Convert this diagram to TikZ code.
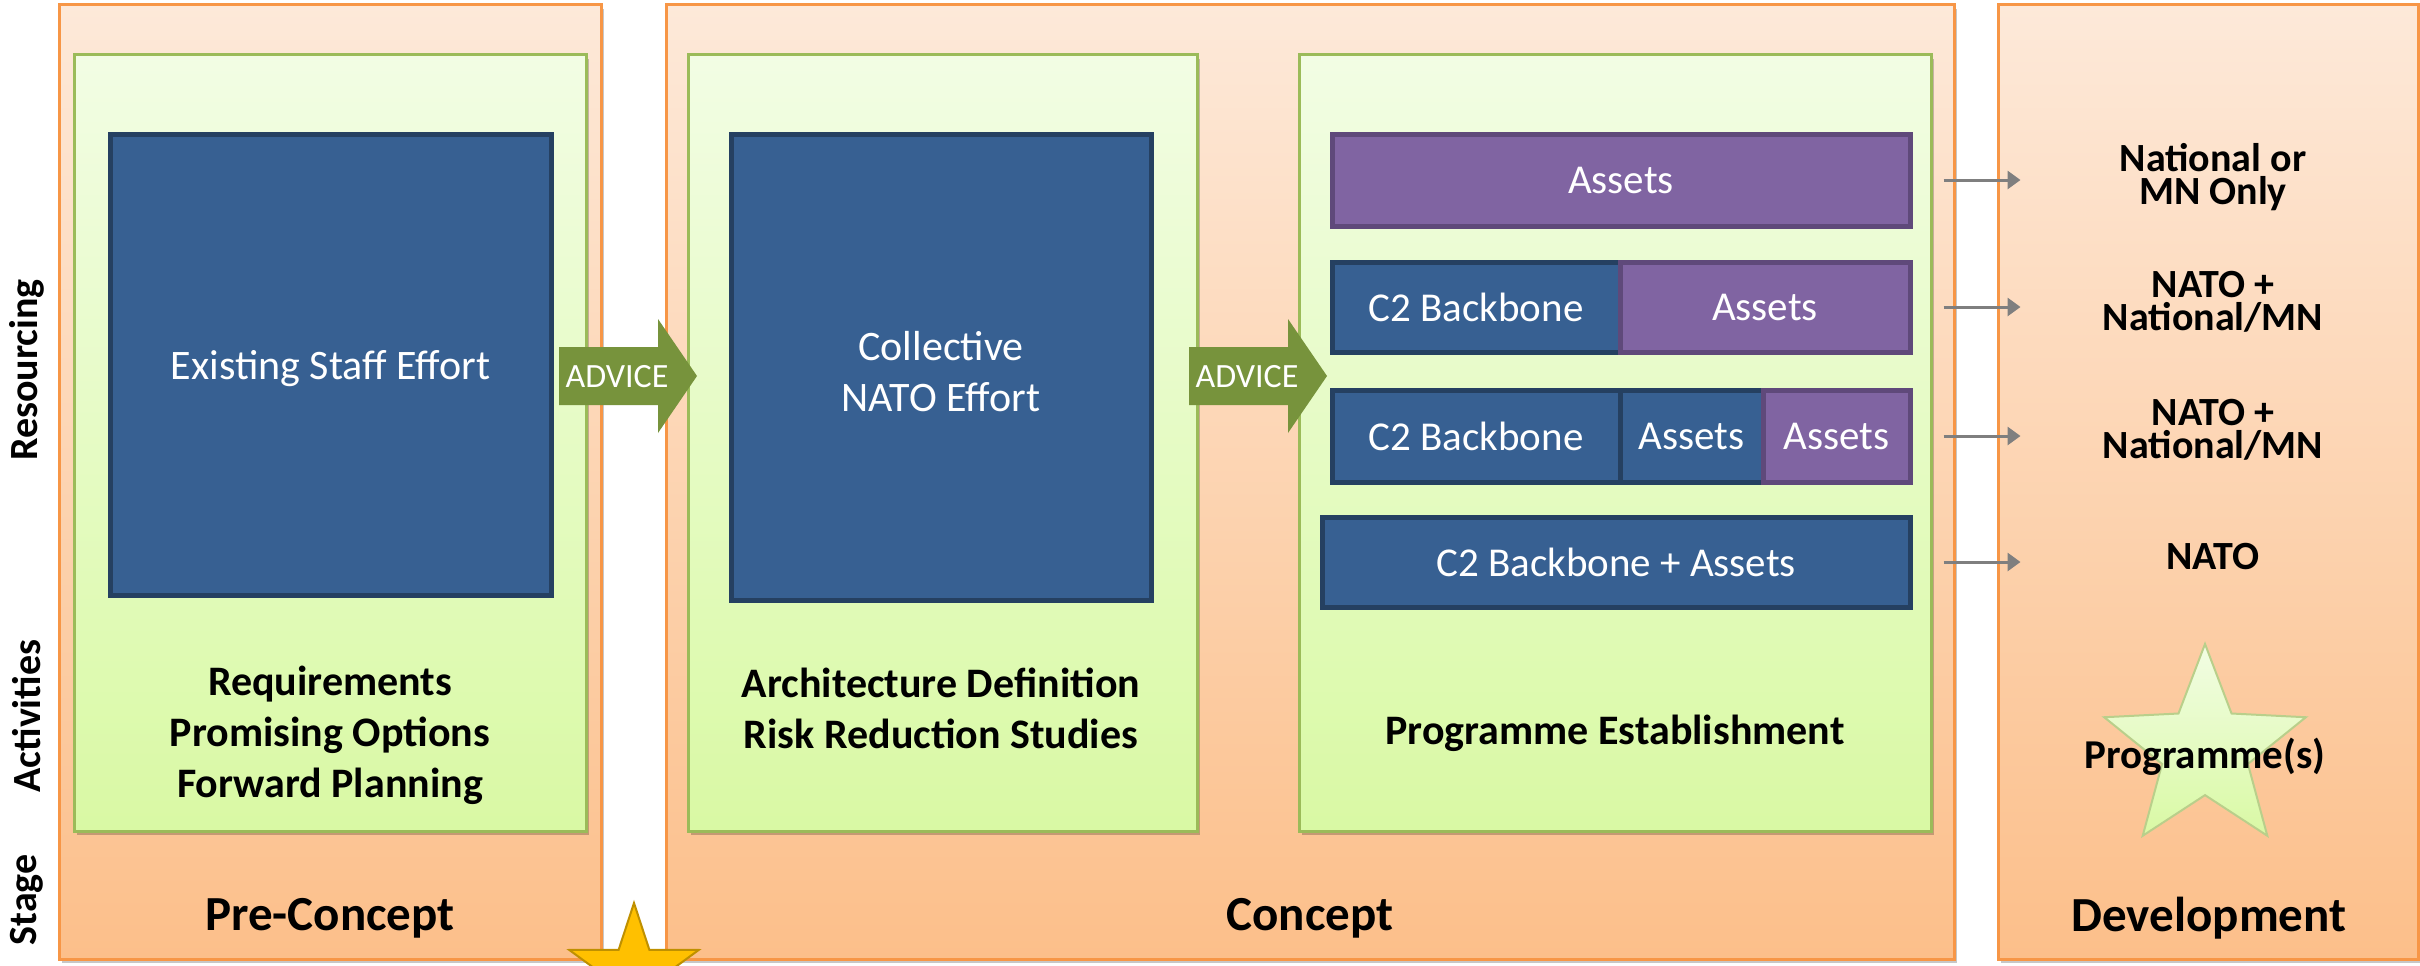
\documentclass[tikz,border=0pt]{standalone}
\usepackage{fontspec}
\setmainfont{Carlito}
\usetikzlibrary{shapes.geometric,shadows,arrows.meta}

\definecolor{stageline}{HTML}{F79646}
\definecolor{stagetop}{HTML}{FDE9D9}
\definecolor{stagebot}{HTML}{FCBF8A}
\definecolor{actline}{HTML}{9BBB59}
\definecolor{acttop}{HTML}{F2FDE4}
\definecolor{actbot}{HTML}{D9F9A4}
\definecolor{natoblue}{HTML}{376092}
\definecolor{natoline}{HTML}{254061}
\definecolor{assetpurple}{HTML}{8064A2}
\definecolor{assetline}{HTML}{5F497A}
\definecolor{advicegreen}{HTML}{77933C}
\definecolor{flowgray}{HTML}{7F7F7F}
\definecolor{goldstar}{HTML}{FFC000}
\definecolor{goldline}{HTML}{BF9000}

\tikzset{
  softshadow/.style={drop shadow={shadow xshift=3pt, shadow yshift=-4pt, fill=black, opacity=0.22}},
  stagebox/.style={rectangle, draw=stageline, line width=3pt, top color=stagetop, bottom color=stagebot, inner sep=0pt, softshadow},
  actbox/.style={rectangle, draw=actline, line width=3pt, top color=acttop, bottom color=actbot, inner sep=0pt, softshadow},
  effort/.style={rectangle, draw=natoline, fill=natoblue, line width=5pt, inner sep=0pt, text=white, font=\fontsize{42}{51}\selectfont, align=center},
  backbone/.style={rectangle, draw=natoline, fill=natoblue, line width=5pt, inner sep=0pt, text=white, font=\fontsize{41}{49}\selectfont},
  asset/.style={rectangle, draw=assetline, fill=assetpurple, line width=5pt, inner sep=0pt, text=white, font=\fontsize{41}{49}\selectfont},
  stagelabel/.style={font=\fontsize{49}{59}\selectfont\bfseries},
  actlabel/.style={font=\fontsize{42}{51}\selectfont\bfseries, align=center},
  devlabel/.style={font=\fontsize{40}{33}\selectfont\bfseries, align=center},
  axislabel/.style={rotate=90, font=\fontsize{40}{48}\selectfont\bfseries},
  advice/.style={fill=advicegreen},
  advtext/.style={text=white, font=\fontsize{34}{40}\selectfont},
  flow/.style={draw=flowgray, line width=3pt, -{Triangle[length=13pt,width=18pt]}},
}

\begin{document}
\begin{tikzpicture}[x=1pt, y=-1pt]
  \clip (0,0) rectangle (2420,966);
  \fill[white] (0,0) rectangle (2420,966);

  % stages
  \node[stagebox, minimum width=542pt, minimum height=954pt] (pre) at (330,482) {};
  \node[stagebox, minimum width=1288pt, minimum height=954pt] (concept) at (1310,482) {};
  \node[stagebox, minimum width=420pt, minimum height=954pt] (dev) at (2208,482) {};

  % activity panels
  \node[actbox, minimum width=512pt, minimum height=776pt] (act1) at (330,443) {};
  \node[actbox, minimum width=509pt, minimum height=776pt] (act2) at (942.5,443) {};
  \node[actbox, minimum width=632pt, minimum height=776pt] (act3) at (1615,443) {};

  % resourcing
  \node[effort, minimum width=441pt, minimum height=461pt] (staff) at (330.5,364.5) {};
  \node[effort, minimum width=420pt, minimum height=466pt] (collective) at (941,367) {};
  \node[effort, fill=none, draw=none] (stafftext) at (330.5,369) {Existing Staff Effort};
  \node[effort, fill=none, draw=none] (collectivetext) at (941,372) {Collective\\NATO Effort};

  \node[asset, minimum width=578pt, minimum height=92pt] (b1) at (1621,180) {Assets};
  \node[backbone, minimum width=288pt, minimum height=90pt] (b2a) at (1476,307) {C2 Backbone};
  \node[asset, minimum width=290pt, minimum height=90pt] (b2b) at (1765,307) {Assets};
  \node[backbone, minimum width=288pt, minimum height=92pt] (b3a) at (1476,436) {C2 Backbone};
  \node[backbone, minimum width=143pt, minimum height=92pt] (b3b) at (1691.5,436) {Assets};
  \node[asset, minimum width=147pt, minimum height=92pt] (b3c) at (1836.5,436) {Assets};
  \node[backbone, minimum width=588pt, minimum height=90pt] (b4) at (1616,562) {C2 Backbone + Assets};

  % advice arrows
  \foreach \dx/\nm in {0/adv1, 630/adv2} {
    \begin{scope}[xshift=\dx pt]
      \fill[advice] (559,347) -- (658,347) -- (658,319) -- (697,376)
        -- (658,433) -- (658,405) -- (559,405) -- cycle;
      \node[advtext] (\nm) at (617,377) {ADVICE};
    \end{scope}
  }

  % development outcomes
  \node[devlabel] (out1) at (2213,177) {National or\\MN Only};
  \node[devlabel] (out2) at (2213,302) {NATO +\\National/MN};
  \node[devlabel] (out3) at (2213,430) {NATO +\\National/MN};
  \node[devlabel] (out4) at (2213,557) {NATO};

  \draw[flow] ([xshift=31pt]b1.east) -- ([xshift=24pt]dev.west |- b1.east);
  \draw[flow] ([xshift=31pt]b2b.east) -- ([xshift=24pt]dev.west |- b2b.east);
  \draw[flow] ([xshift=31pt]b3c.east) -- ([xshift=24pt]dev.west |- b3c.east);
  \draw[flow] ([xshift=31pt]b4.east) -- ([xshift=24pt]dev.west |- b4.east);

  \node[star, star points=5, star point ratio=2.35, minimum size=212pt, inner sep=0pt,
    draw=actline!70, line width=2pt, top color=acttop, bottom color=actbot] (progstar) at (2205,750) {};
  \node[font=\fontsize{41}{49}\selectfont\bfseries] (prog) at (2205,757) {Programme(s)};

  % activities
  \node[actlabel] (req) at (330,735) {Requirements\\Promising Options\\Forward Planning};
  \node[actlabel] (arch) at (941,708) {Architecture Definition\\Risk Reduction Studies};
  \node[actlabel] (estab) at (1615,733) {Programme Establishment};

  % stage names
  \node[stagelabel] (prename) at (330,918) {Pre-Concept};
  \node[stagelabel] (conceptname) at (1310,918) {Concept};
  \node[stagelabel] (devname) at (2209,918) {Development};

  % row labels
  \node[axislabel] (resourcing) at (27,370) {Resourcing};
  \node[axislabel] (activities) at (27,716) {Activities};
  \node[axislabel] (stage) at (27,900) {Stage};

  \node[star, star points=5, star point ratio=2.6, minimum size=136pt, inner sep=0pt,
    fill=goldstar, draw=goldline, line width=2pt] (now) at (634,971) {};
\end{tikzpicture}
\end{document}
